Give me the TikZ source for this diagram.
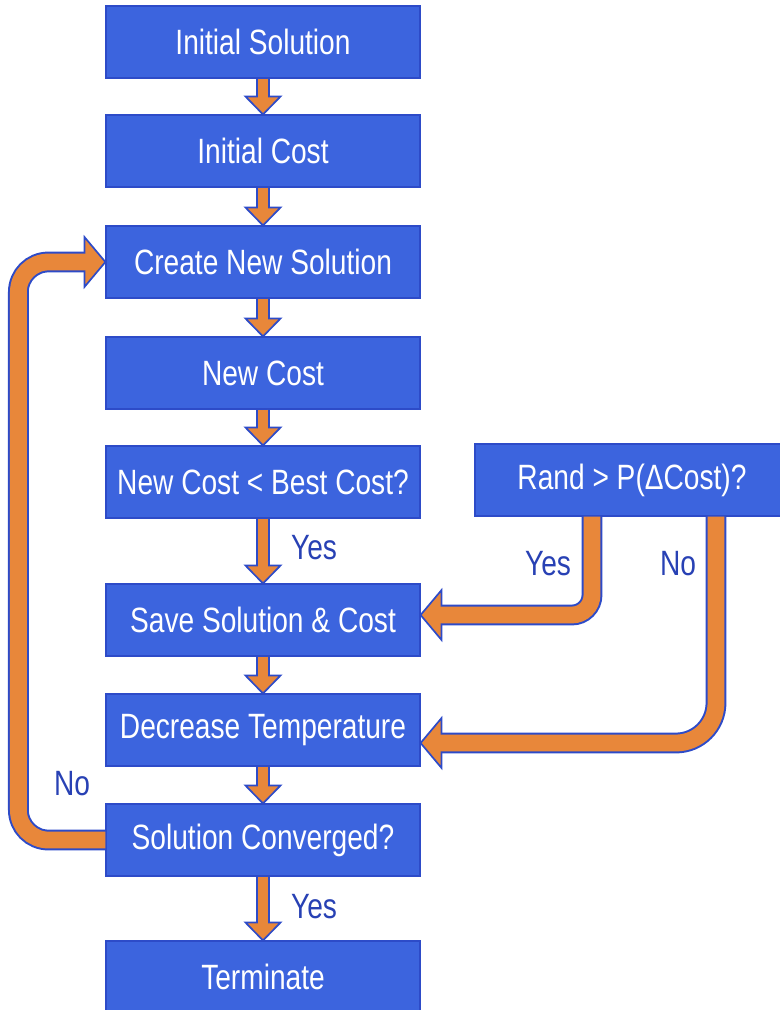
\documentclass[tikz,border=0pt]{standalone}
\usepackage{fontspec}
\setmainfont{Liberation Sans}[FakeStretch=0.8]
\usetikzlibrary{calc}

\definecolor{boxblue}{RGB}{60,100,222}
\definecolor{edgeblue}{RGB}{45,75,200}
\definecolor{arroworange}{RGB}{232,135,58}
\definecolor{textblue}{RGB}{40,65,180}

\tikzset{
  stepbox/.style={rectangle,fill=boxblue,draw=edgeblue,line width=0.8pt,text=white,
    minimum width=7.85cm,minimum height=1.8cm,inner sep=0pt,font=\fontsize{25}{30}\selectfont},
  answer/.style={text=textblue,inner sep=0pt,font=\fontsize{25}{30}\selectfont},
  shaftedge/.style={draw=edgeblue},
  shaftfill/.style={draw=arroworange},
  tipstyle/.style={fill=arroworange,draw=edgeblue,line width=1.2pt},
  downtip/.pic={\filldraw[tipstyle] (0,0) -- (-0.45cm,0.44cm) -- (-0.45cm,-0.44cm) -- cycle;},
  bendtip/.pic={\filldraw[tipstyle] (0,0) -- (-0.52cm,0.62cm) -- (-0.52cm,-0.62cm) -- cycle;}
}

\begin{document}
\begin{tikzpicture}[x=0.025cm,y=-0.025cm]
  \useasboundingbox (0,0) rectangle (779,1010);

  % main column
  \node[stepbox] (isol) at (263,42) {Initial Solution};
  \node[stepbox] (icost) at (263,151) {Initial Cost};
  \node[stepbox] (create) at (263,262) {Create New Solution};
  \node[stepbox] (ncost) at (263,373) {New Cost};
  \node[stepbox] (check) at (263,482) {New Cost < Best Cost?};
  \node[stepbox] (save) at (263,620) {Save Solution \& Cost};
  \node[stepbox] (decr) at (263,730) {Decrease Temperature};
  \node[stepbox] (conv) at (263,840) {Solution Converged?};
  \node[stepbox] (term) at (263,977) {Terminate};
  % side test
  \node[stepbox] (rand) at (632,480) {Rand > P(ΔCost)?};

  % straight arrows down the column
  \foreach \a/\b in {isol/icost,icost/create,create/ncost,ncost/check,check/save,save/decr,decr/conv,conv/term}{
    \draw[shaftedge,line width=0.35cm,shorten >=0.44cm] (\a.south) -- (\b.north);
    \pic[rotate=-90] at (\b.north) {downtip};
    \draw[shaftfill,line width=0.27cm,shorten >=0.41cm] (\a.south) -- (\b.north);
  }

  % loop back when not converged
  \draw[shaftedge,line width=0.52cm,rounded corners=0.75cm,shorten >=0.5cm]
    (conv.west) -- ++(-87,0) |- (create.west);
  \pic at (create.west) {bendtip};
  \draw[shaftfill,line width=0.42cm,rounded corners=0.75cm,shorten >=0.47cm]
    (conv.west) -- ++(-87,0) |- (create.west);

  % Rand yes
  \draw[shaftedge,line width=0.52cm,rounded corners=0.5cm,shorten >=0.5cm]
    ($(rand.south)+(-40,0)$) |- ($(save.east)+(0,-5)$);
  \pic[rotate=180] at ($(save.east)+(0,-5)$) {bendtip};
  \draw[shaftfill,line width=0.42cm,rounded corners=0.5cm,shorten >=0.47cm]
    ($(rand.south)+(-40,0)$) |- ($(save.east)+(0,-5)$);

  % Rand no
  \draw[shaftedge,line width=0.52cm,rounded corners=1cm,shorten >=0.5cm]
    ($(rand.south)+(84,0)$) |- ($(decr.east)+(0,13)$);
  \pic[rotate=180] at ($(decr.east)+(0,13)$) {bendtip};
  \draw[shaftfill,line width=0.42cm,rounded corners=1cm,shorten >=0.47cm]
    ($(rand.south)+(84,0)$) |- ($(decr.east)+(0,13)$);

  % answers
  \node[answer] (yes1) at (314,548) {Yes};
  \node[answer] (yes2) at (548,564) {Yes};
  \node[answer] (no1) at (678,564) {No};
  \node[answer] (no2) at (72,784) {No};
  \node[answer] (yes3) at (314,907) {Yes};
\end{tikzpicture}
\end{document}
